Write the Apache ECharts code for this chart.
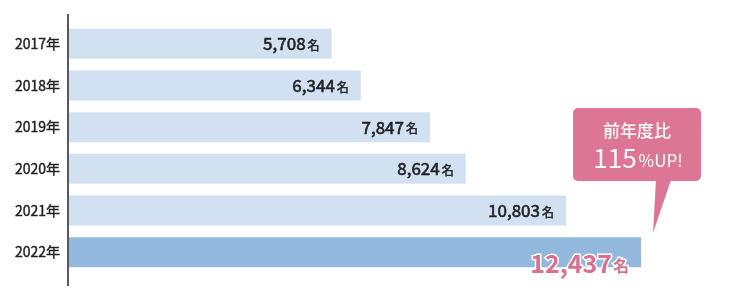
<!DOCTYPE html>
<html><head><meta charset="utf-8">
<script src="https://cdn.jsdelivr.net/npm/echarts@6/dist/echarts.min.js"></script>
<style>html,body{margin:0;padding:0;background:#fff}#c{width:731px;height:298px}</style>
</head><body><div id="c"></div>
<script>
const categories = ['2017年','2018年','2019年','2020年','2021年','2022年'];
const values = [5708, 6344, 7847, 8624, 10803, 12437];
const unit = '名';
const calloutLine1 = '前年度比';
const calloutPct = '115';
const calloutSuffix = '%UP!';

const FONT = '"Noto Sans CJK JP", "Noto Sans", sans-serif';
const fmt = v => v.toLocaleString('en-US');
const last = values.length - 1;

const chart = echarts.init(document.getElementById('c'), null, {renderer: 'canvas'});
const data = values.map((v, i) => {
  if (i === last) {
    return {
      value: v,
      itemStyle: {color: '#93b8dd'},
      label: {
        position: 'insideRight', distance: 12, offset: [0, 11],
        formatter: p => '{n|' + fmt(p.value) + '}{u|' + unit + '}',
        rich: {
          n: {fontSize: 25, fontWeight: 'bold', color: '#d9708f', fontFamily: FONT, textBorderColor: '#fff', textBorderWidth: 3, padding: [0, 1, 0, 0]},
          u: {fontSize: 16, fontWeight: 'bold', color: '#d9708f', fontFamily: FONT, textBorderColor: '#fff', textBorderWidth: 3, padding: [5, 0, 0, 0]}
        }
      }
    };
  }
  return v;
});

chart.setOption({
  animation: false,
  grid: {left: 69, right: 64, top: 23, bottom: 25},
  xAxis: {type: 'value', min: 0, max: 13000, show: false},
  yAxis: {
    type: 'category', data: categories, inverse: true,
    axisLine: {show: false}, axisTick: {show: false},
    axisLabel: {color: '#222', fontSize: 14, fontFamily: FONT, fontWeight: 'normal', textBorderColor: '#222', textBorderWidth: 0.4, margin: 9}
  },
  series: [{
    type: 'bar', data: data, barWidth: 30,
    itemStyle: {color: '#d1e1f2'},
    label: {
      show: true, position: 'insideRight', distance: 12,
      formatter: p => '{n|' + fmt(p.value) + '}{u|' + unit + '}',
      rich: {
        n: {fontSize: 17, fontWeight: 'normal', color: '#222', fontFamily: FONT, textBorderColor: '#222', textBorderWidth: 0.6, padding: [0, 2, 0, 0]},
        u: {fontSize: 12, fontWeight: 'normal', color: '#222', fontFamily: FONT, textBorderColor: '#222', textBorderWidth: 0.5, padding: [3, 0, 0, 0]}
      }
    }
  }],
  graphic: [
    {type: 'line', shape: {x1: 68, y1: 14, x2: 68, y2: 286}, style: {stroke: '#222', lineWidth: 1.5}},
    {type: 'group', children: [
      {type: 'rect', shape: {x: 573, y: 108, width: 128, height: 73, r: 5}, style: {fill: '#dc7694'}},
      {type: 'polygon', shape: {points: [[656, 180], [671, 180], [653, 233]]}, style: {fill: '#dc7694'}},
      {type: 'text', x: 637, y: 131, style: {text: calloutLine1, fill: '#fff', font: '500 17px ' + FONT, align: 'center', verticalAlign: 'middle'}},
      {type: 'text', x: 638, y: 158, style: {
        text: '{a|' + calloutPct + '}{b|' + calloutSuffix + '}', align: 'center', verticalAlign: 'middle',
        rich: {a: {fontSize: 26, fill: '#fff', fontFamily: FONT, fontWeight: 400, padding: [0, 2, 0, 0]}, b: {fontSize: 17, fill: '#fff', fontFamily: FONT, fontWeight: 400, padding: [5, 0, 0, 0]}}
      }}
    ]}
  ]
});
</script></body></html>
